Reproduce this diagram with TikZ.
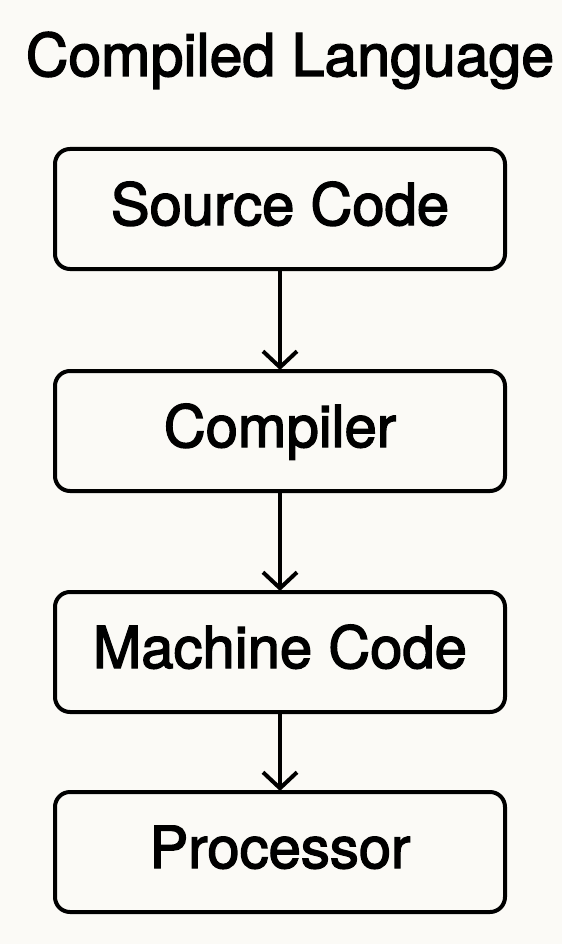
\documentclass[tikz,border=0pt]{standalone}
\usepackage{fontspec}
\setmainfont[FakeBold=2.4]{TeX Gyre Heros}
\usetikzlibrary{arrows.meta}
\definecolor{paper}{RGB}{251,250,246}

\begin{document}
\begin{tikzpicture}[x=1pt, y=1pt, line width=4pt, >={Straight Barb[length=16pt,width=34pt]},
  stage/.style={draw, rectangle, rounded corners=15pt, minimum width=450pt, minimum height=120pt,
    outer sep=1pt, text height=41pt, text depth=9pt, font=\fontsize{58}{62}\selectfont}]
% background
\fill[paper] (0,0) rectangle (562,-944);
% title
\node[anchor=base, font=\fontsize{59}{64}\selectfont] (title) at (290,-76) {Compiled Language};
% stages
\foreach \y/\n/\t in {-209/src/Source Code, -431/comp/Compiler, -652/mach/Machine Code, -852/proc/Processor}
  \node[stage] (\n) at (280,\y) {\t};
% arrows
\foreach \a/\b in {src/comp, comp/mach, mach/proc}
  \draw[->] (\a) -- (\b);
\end{tikzpicture}
\end{document}
